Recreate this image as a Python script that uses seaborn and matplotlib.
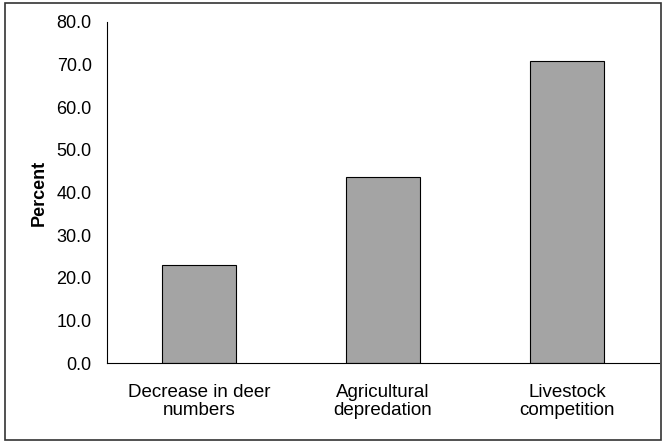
import seaborn as sns
import pandas as pd
from matplotlib import pyplot as plt
from matplotlib.patches import Rectangle

# categories and values
categories = ["Decrease in deer\nnumbers", "Agricultural\ndepredation", "Livestock\ncompetition"]
percent = [23.1, 43.6, 70.9]
y_ticks = [0, 10, 20, 30, 40, 50, 60, 70, 80]

df = pd.DataFrame({"Category": categories, "Percent": percent})

sns.set_style("white")
plt.rcParams['font.family'] = ['Liberation Sans', 'DejaVu Sans']
plt.rcParams['text.color'] = 'black'
plt.rcParams['axes.labelcolor'] = 'black'
plt.rcParams['xtick.color'] = 'black'
plt.rcParams['ytick.color'] = 'black'

fig = plt.figure(figsize=(6.62, 4.41), dpi=100)
ax = fig.add_axes([107/662, 1 - 363/441, 552/662, 341/441])

sns.barplot(data=df, x="Category", y="Percent", ax=ax,
            color="#a4a4a4", edgecolor="black", linewidth=0.8,
            width=0.40, saturation=1)

ax.set_xlim(-0.5, 2.5)
ax.set_ylim(0, 80)
ax.set_yticks(y_ticks)
ax.set_yticklabels([f"{v:.1f}" for v in y_ticks], fontsize=13)
ax.set_xticks([0, 1, 2])
ax.set_xticklabels(categories, fontsize=13.5, linespacing=1.1)
# category tick marks sit between the bars
ax.set_xticks([-0.5, 0.5, 1.5, 2.5], minor=True)
ax.tick_params(axis="x", which="major", length=0, pad=15)
ax.tick_params(axis="x", which="minor", length=4, width=0.8, direction="out", color="black")
ax.tick_params(axis="y", length=5, width=0.8, direction="out", color="black", pad=6)
ax.set_xlabel("")
ax.set_ylabel("Percent", fontsize=13, fontweight="bold", labelpad=6)

for side in ["top", "right"]:
    ax.spines[side].set_visible(False)
for side in ["left", "bottom"]:
    ax.spines[side].set_color("black")
    ax.spines[side].set_linewidth(0.8)

# outer frame around the chart area
fig.patches.append(Rectangle((5/662, 1/441), 656/662, 437/441, transform=fig.transFigure,
                             fill=False, edgecolor="#333333", linewidth=1.2))

fig.savefig("out.png", dpi=100)
